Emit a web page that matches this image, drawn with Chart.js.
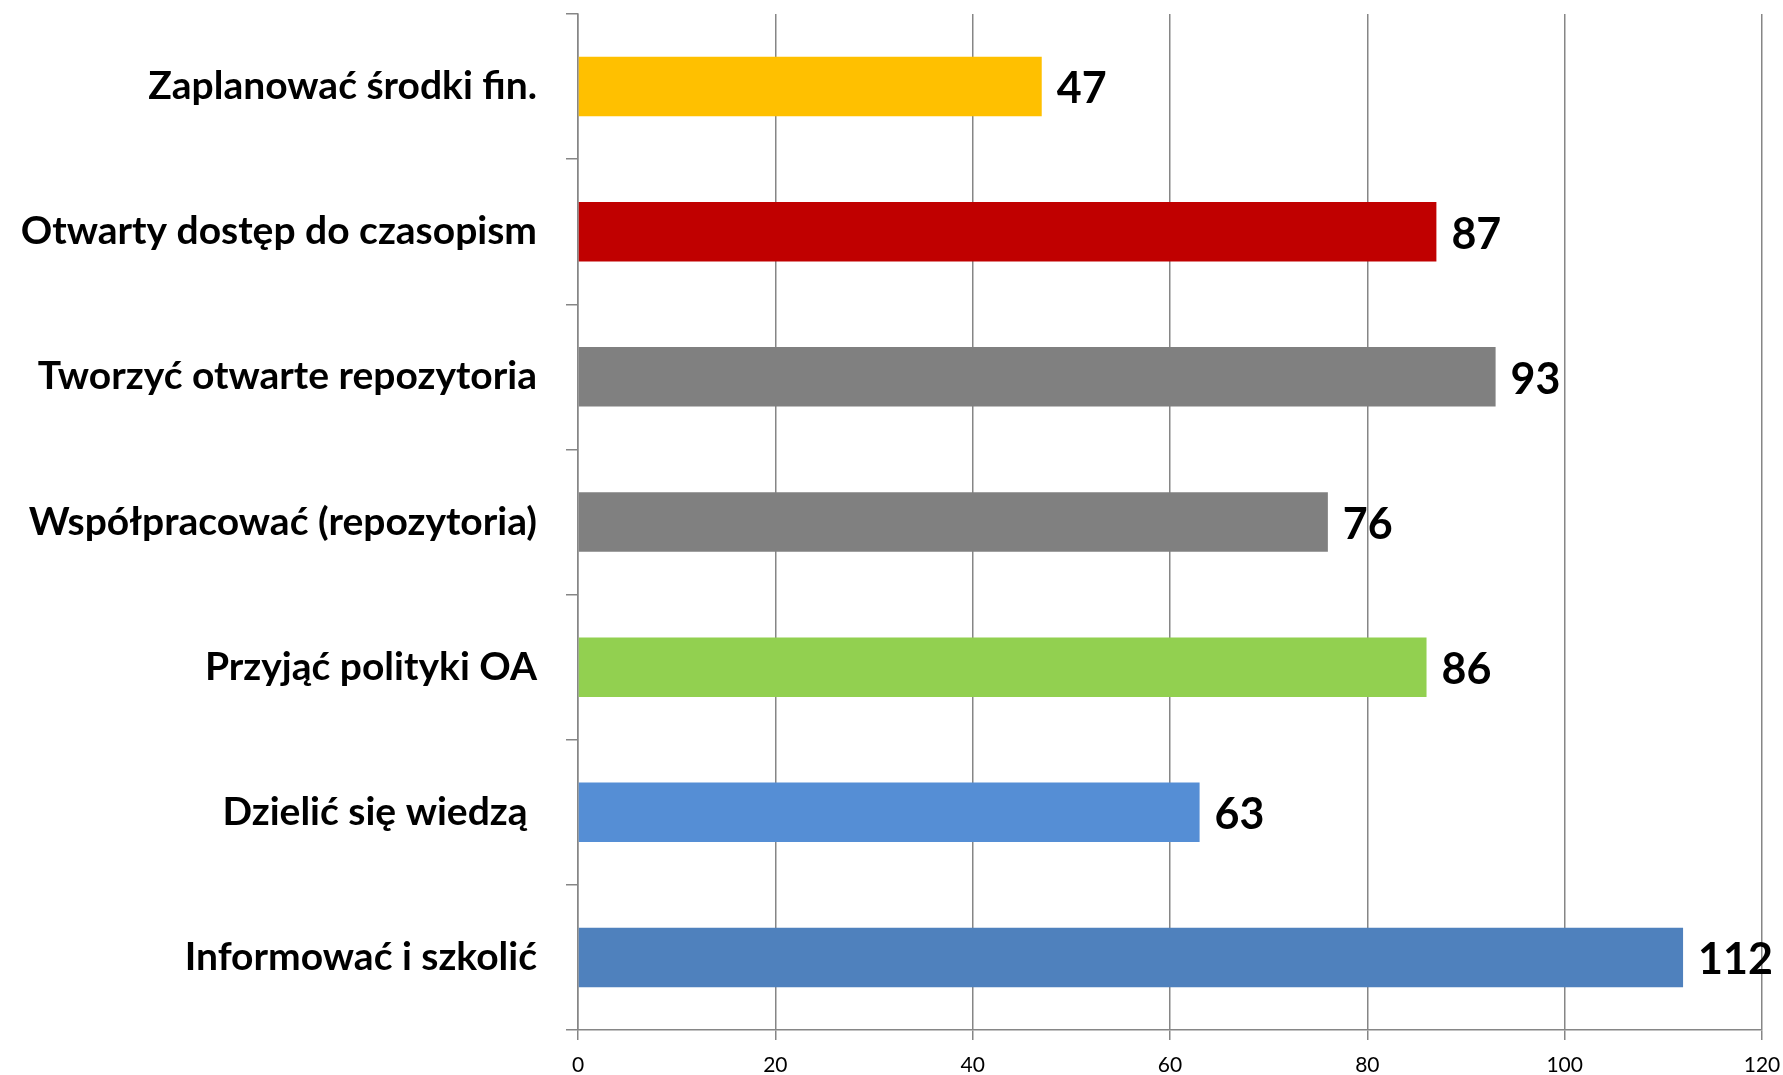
<!DOCTYPE html>
<html>
<head>
<meta charset="utf-8">
<script src="https://cdn.jsdelivr.net/npm/chart.js@4"></script>
<style>
  body { margin: 0; background: #fff; }
</style>
</head>
<body>
<canvas id="canvas" width="1783" height="1075"></canvas>
<script>
// Dane wykresu
const categories = [
  'Zaplanować środki fin.',
  'Otwarty dostęp do czasopism',
  'Tworzyć otwarte repozytoria',
  'Współpracować (repozytoria)',
  'Przyjąć polityki OA',
  'Dzielić się wiedzą ',
  'Informować i szkolić'
]
const values = [47, 87, 93, 76, 86, 63, 112]
const xTicks = [0, 20, 40, 60, 80, 100, 120]

const barColors = ['#FFC000', '#C00000', '#808080', '#808080', '#92D050', '#558ED5', '#4F81BD']
const gridColor = '#868686'

// Etykiety wartości przy słupkach
const valueLabels = {
  id: 'valueLabels',
  afterDatasetsDraw(chart) {
    const ctx = chart.ctx
    const meta = chart.getDatasetMeta(0)
    ctx.save()
    ctx.font = 'bold 43px Lato'
    ctx.fillStyle = '#000'
    ctx.textAlign = 'left'
    ctx.textBaseline = 'middle'
    meta.data.forEach((bar, i) => {
      ctx.fillText(values[i], bar.x + 15, bar.y + 3)
    })
    ctx.restore()
  }
}

const config = {
  type: 'bar',
  data: {
    labels: categories,
    datasets: [{
      data: values,
      backgroundColor: barColors,
      borderWidth: 0,
      categoryPercentage: 1,
      barPercentage: 0.41
    }]
  },
  options: {
    indexAxis: 'y',
    responsive: false,
    animation: false,
    devicePixelRatio: 1,
    layout: { padding: { top: 14, right: 21, left: 0, bottom: 0 } },
    plugins: {
      legend: { display: false },
      tooltip: { enabled: false }
    },
    scales: {
      x: {
        min: 0,
        max: 120,
        afterBuildTicks(scale) {
          scale.ticks = xTicks.map(v => ({ value: v }))
        },
        afterFit(scale) {
          scale.height = 45
          scale.paddingLeft = 0
          scale.paddingRight = 0
        },
        grid: { color: gridColor, lineWidth: 1.5, tickLength: 10, drawTicks: true },
        border: { color: gridColor, width: 1.5 },
        ticks: { color: '#000', font: { family: 'Lato', size: 21 }, padding: 13 }
      },
      y: {
        afterFit(scale) {
          scale.width = 578
          scale.paddingTop = 0
          scale.paddingBottom = 0
        },
        grid: { drawOnChartArea: false, offset: true, tickLength: 12, color: gridColor, lineWidth: 1.5 },
        border: { color: gridColor, width: 1.5 },
        ticks: { color: '#000', font: { family: 'Lato', size: 39, weight: 'bold' }, padding: 29 }
      }
    }
  },
  plugins: [valueLabels]
}

const chart = new Chart(document.getElementById('canvas'), config)
</script>
</body>
</html>
